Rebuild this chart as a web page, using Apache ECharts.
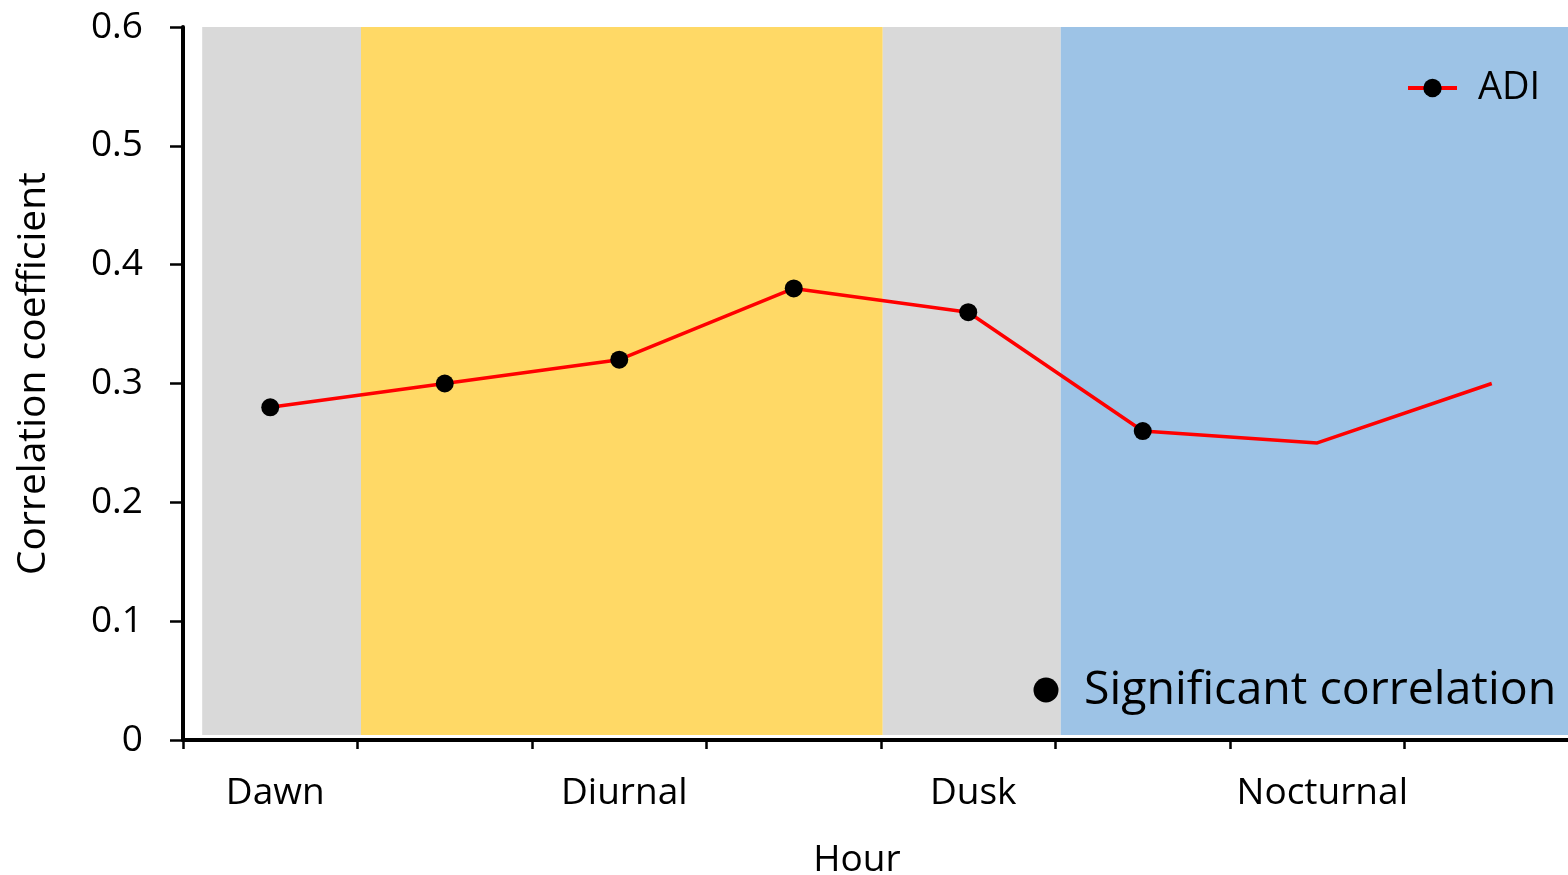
<!DOCTYPE html>
<html>
<head>
<meta charset="utf-8">
<script src="https://cdn.jsdelivr.net/npm/echarts@6/dist/echarts.min.js"></script>
<style>html,body{margin:0;padding:0;background:#fff}#c{width:1568px;height:875px}</style>
</head>
<body>
<div id="c"></div>
<script>
var categories = ['Dawn', '', 'Diurnal', '', 'Dusk', '', 'Nocturnal', ''];
var adiValues = [0.28, 0.30, 0.32, 0.38, 0.36, 0.26, 0.25, 0.30];
var significant = [true, true, true, true, true, true, false, false];
var yTicks = [0, 0.1, 0.2, 0.3, 0.4, 0.5, 0.6];
var bandStarts = [0.11, 1.02, 4.01, 5.03];
var bandEnds = [1.02, 4.01, 5.03, 8.0];
var bandNames = ['twilight', 'day', 'twilight', 'night'];

var bandColors = { twilight: '#D9D9D9', day: '#FFD966', night: '#9DC3E6' };
var FONT = 'Open Sans';

var chart = echarts.init(document.getElementById('c'), null, { renderer: 'canvas' });

var bandData = bandStarts.map(function (s, i) { return [s, bandEnds[i], bandNames[i]]; });

var option = {
  backgroundColor: '#ffffff',
  animation: false,
  textStyle: { fontFamily: FONT, color: '#000' },
  grid: { left: 183, top: 27, width: 1396, height: 713, containLabel: false, outerBoundsMode: 'none' },
  legend: {
    data: ['ADI'],
    left: 1401, top: 64,
    itemWidth: 49, itemHeight: 23,
    lineStyle: { width: 4 },
    textStyle: { fontFamily: FONT, fontSize: 38, color: '#000', padding: [0, 0, 0, 16] }
  },
  xAxis: [{
    type: 'category',
    data: categories,
    boundaryGap: true,
    name: 'Hour',
    nameLocation: 'middle',
    nameGap: 102,
    nameTextStyle: { fontFamily: FONT, fontSize: 37, color: '#000', padding: [0, 48, 0, 0] },
    axisLine: { lineStyle: { color: '#000', width: 4 } },
    axisTick: { show: true, alignWithLabel: false, interval: 0, length: 9, lineStyle: { color: '#000', width: 2.5 } },
    axisLabel: { interval: 0, margin: 35, fontFamily: FONT, fontSize: 37, color: '#000', padding: [0, 0, 0, 10] },
    splitLine: { show: false }
  }, {
    type: 'value', min: 0, max: 8, show: false
  }],
  yAxis: {
    type: 'value',
    min: 0, max: 0.6, interval: 0.1,
    name: 'Correlation coefficient',
    nameLocation: 'middle',
    nameGap: 130,
    nameTextStyle: { fontFamily: FONT, fontSize: 39, color: '#000', padding: [0, 0, 0, 20] },
    axisLine: { show: true, onZero: false, lineStyle: { color: '#000', width: 4 } },
    axisTick: { show: true, length: 13, lineStyle: { color: '#000', width: 2.5 } },
    axisLabel: {
      margin: 40, fontFamily: FONT, fontSize: 37, color: '#000',
      formatter: function (v) { return String(Math.round(v * 10) / 10); }
    },
    splitLine: { show: false }
  },
  graphic: [
    { type: 'circle', shape: { cx: 1046, cy: 690, r: 12.5 }, style: { fill: '#000' }, z: 100 },
    { type: 'text', left: 1084, top: 667, style: { text: 'Significant correlation', font: '46.5px "Open Sans"', fill: '#000' }, z: 100 }
  ],
  series: [{
    type: 'custom',
    xAxisIndex: 1,
    silent: true,
    z: 0,
    data: bandData,
    renderItem: function (params, api) {
      var p0 = api.coord([api.value(0), 0.6]);
      var p1 = api.coord([api.value(1), 0.0042]);
      var name = bandData[params.dataIndex][2];
      return { type: 'rect', shape: { x: p0[0], y: p0[1], width: p1[0] - p0[0], height: p1[1] - p0[1] }, style: { fill: bandColors[name] } };
    }
  }, {
    name: 'ADI',
    type: 'line',
    z: 5,
    data: adiValues.map(function (v, i) {
      return significant[i] ? { value: v } : { value: v, symbol: 'none' };
    }),
    symbol: 'circle',
    symbolSize: 18,
    showAllSymbol: true,
    lineStyle: { color: '#FF0000', width: 3.5 },
    itemStyle: { color: '#000' }
  }]
};
chart.setOption(option);
</script>
</body>
</html>
